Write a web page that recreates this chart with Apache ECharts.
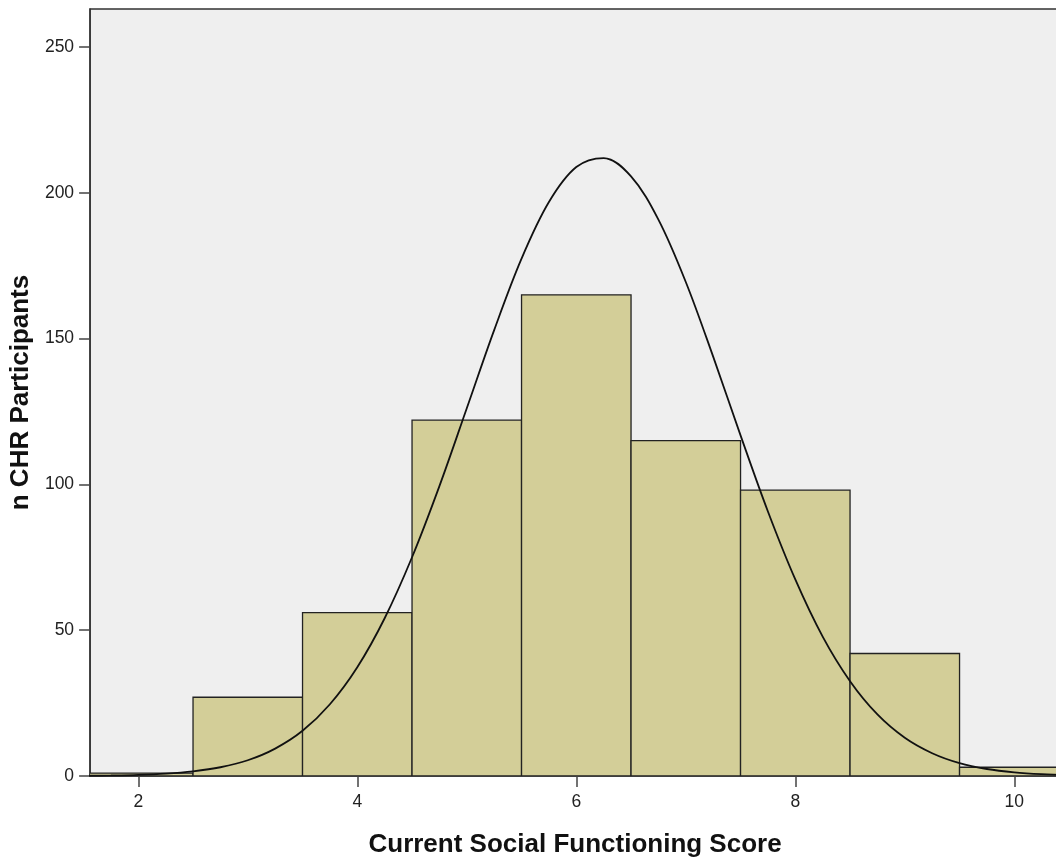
<!DOCTYPE html>
<html>
<head>
<meta charset="utf-8">
<script src="https://cdn.jsdelivr.net/npm/echarts@6/dist/echarts.min.js"></script>
<style>
html,body{margin:0;padding:0;background:#fff;overflow:hidden;}
#chart{width:1080px;height:863px;}
</style>
</head>
<body>
<div id="chart"></div>
<script>
// Histogram bins: lower edge, upper edge, count of participants
const binLo = [1.5, 2.5, 3.5, 4.5, 5.5, 6.5, 7.5, 8.5, 9.5];
const binHi = [2.5, 3.5, 4.5, 5.5, 6.5, 7.5, 8.5, 9.5, 10.5];
const counts = [1, 27, 56, 122, 165, 115, 98, 42, 3];

// Fitted normal curve, sampled along the score axis
const curveX = [1.5,1.75,2,2.25,2.5,2.75,3,3.25,3.5,3.75,4,4.25,4.5,4.75,5,5.25,5.5,5.75,6,6.25,6.5,6.75,7,7.25,7.5,7.75,8,8.25,8.5,8.75,9,9.25,9.5,9.75,10,10.25,10.5];
const curveY = [0.08,0.18,0.38,0.8,1.6,3.0,5.4,9.4,15.5,24.6,37.3,54.1,75.0,99.4,126.1,152.9,177.4,196.8,208.8,211.9,205.6,190.8,169.4,143.8,116.8,90.7,67.4,47.8,32.5,21.1,13.1,7.8,4.4,2.4,1.25,0.62,0.3];

const xTicks = [2, 4, 6, 8, 10];
const yTicks = [0, 50, 100, 150, 200, 250];

const chart = echarts.init(document.getElementById('chart'), null, {renderer: 'canvas'});

const barData = binLo.map((lo, i) => [lo, binHi[i], counts[i]]);
const lineData = curveX.map((x, i) => [x, curveY[i]]);

const FONT = 'Arial, "Liberation Sans", sans-serif';
const axisText = {color: '#222', fontFamily: FONT, fontSize: 17.5};
const titleText = {color: '#111', fontFamily: FONT, fontSize: 26, fontWeight: 'bold'};

chart.setOption({
  animation: false,
  grid: {
    left: 89, top: 9, right: 0, bottom: 86,
    show: true, backgroundColor: '#efefef', borderColor: '#333', borderWidth: 1.5
  },
  xAxis: {
    type: 'value', min: 1.56, max: 10.6,
    name: 'Current Social Functioning Score',
    nameLocation: 'middle', nameGap: 56,
    nameTextStyle: Object.assign({padding: [0, 20, 0, 0]}, titleText),
    axisLine: {show: true, lineStyle: {color: '#333', width: 1.5}},
    axisTick: {show: true, customValues: xTicks, length: 11, lineStyle: {color: '#444', width: 1.5}},
    axisLabel: Object.assign({customValues: xTicks, margin: 17}, axisText),
    splitLine: {show: false}
  },
  yAxis: {
    type: 'value', min: 0, max: 263,
    name: 'n CHR Participants',
    nameLocation: 'middle', nameGap: 52,
    nameTextStyle: titleText,
    axisLine: {show: true, lineStyle: {color: '#333', width: 1.5}},
    axisTick: {show: true, customValues: yTicks, length: 11, lineStyle: {color: '#444', width: 1.5}},
    axisLabel: Object.assign({customValues: yTicks, margin: 16}, axisText),
    splitLine: {show: false}
  },
  series: [
    {
      type: 'custom',
      clip: true,
      data: barData,
      encode: {x: [0, 1], y: 2},
      renderItem: function (params, api) {
        const p0 = api.coord([api.value(0), api.value(2)]);
        const p1 = api.coord([api.value(1), 0]);
        return {
          type: 'rect',
          shape: {x: p0[0], y: p0[1], width: p1[0] - p0[0], height: p1[1] - p0[1]},
          style: {fill: '#d3ce98', stroke: '#222', lineWidth: 1.3}
        };
      }
    },
    {
      type: 'line',
      data: lineData,
      smooth: 0.35,
      showSymbol: false,
      clip: true,
      lineStyle: {color: '#111', width: 1.8}
    }
  ]
});
</script>
</body>
</html>
